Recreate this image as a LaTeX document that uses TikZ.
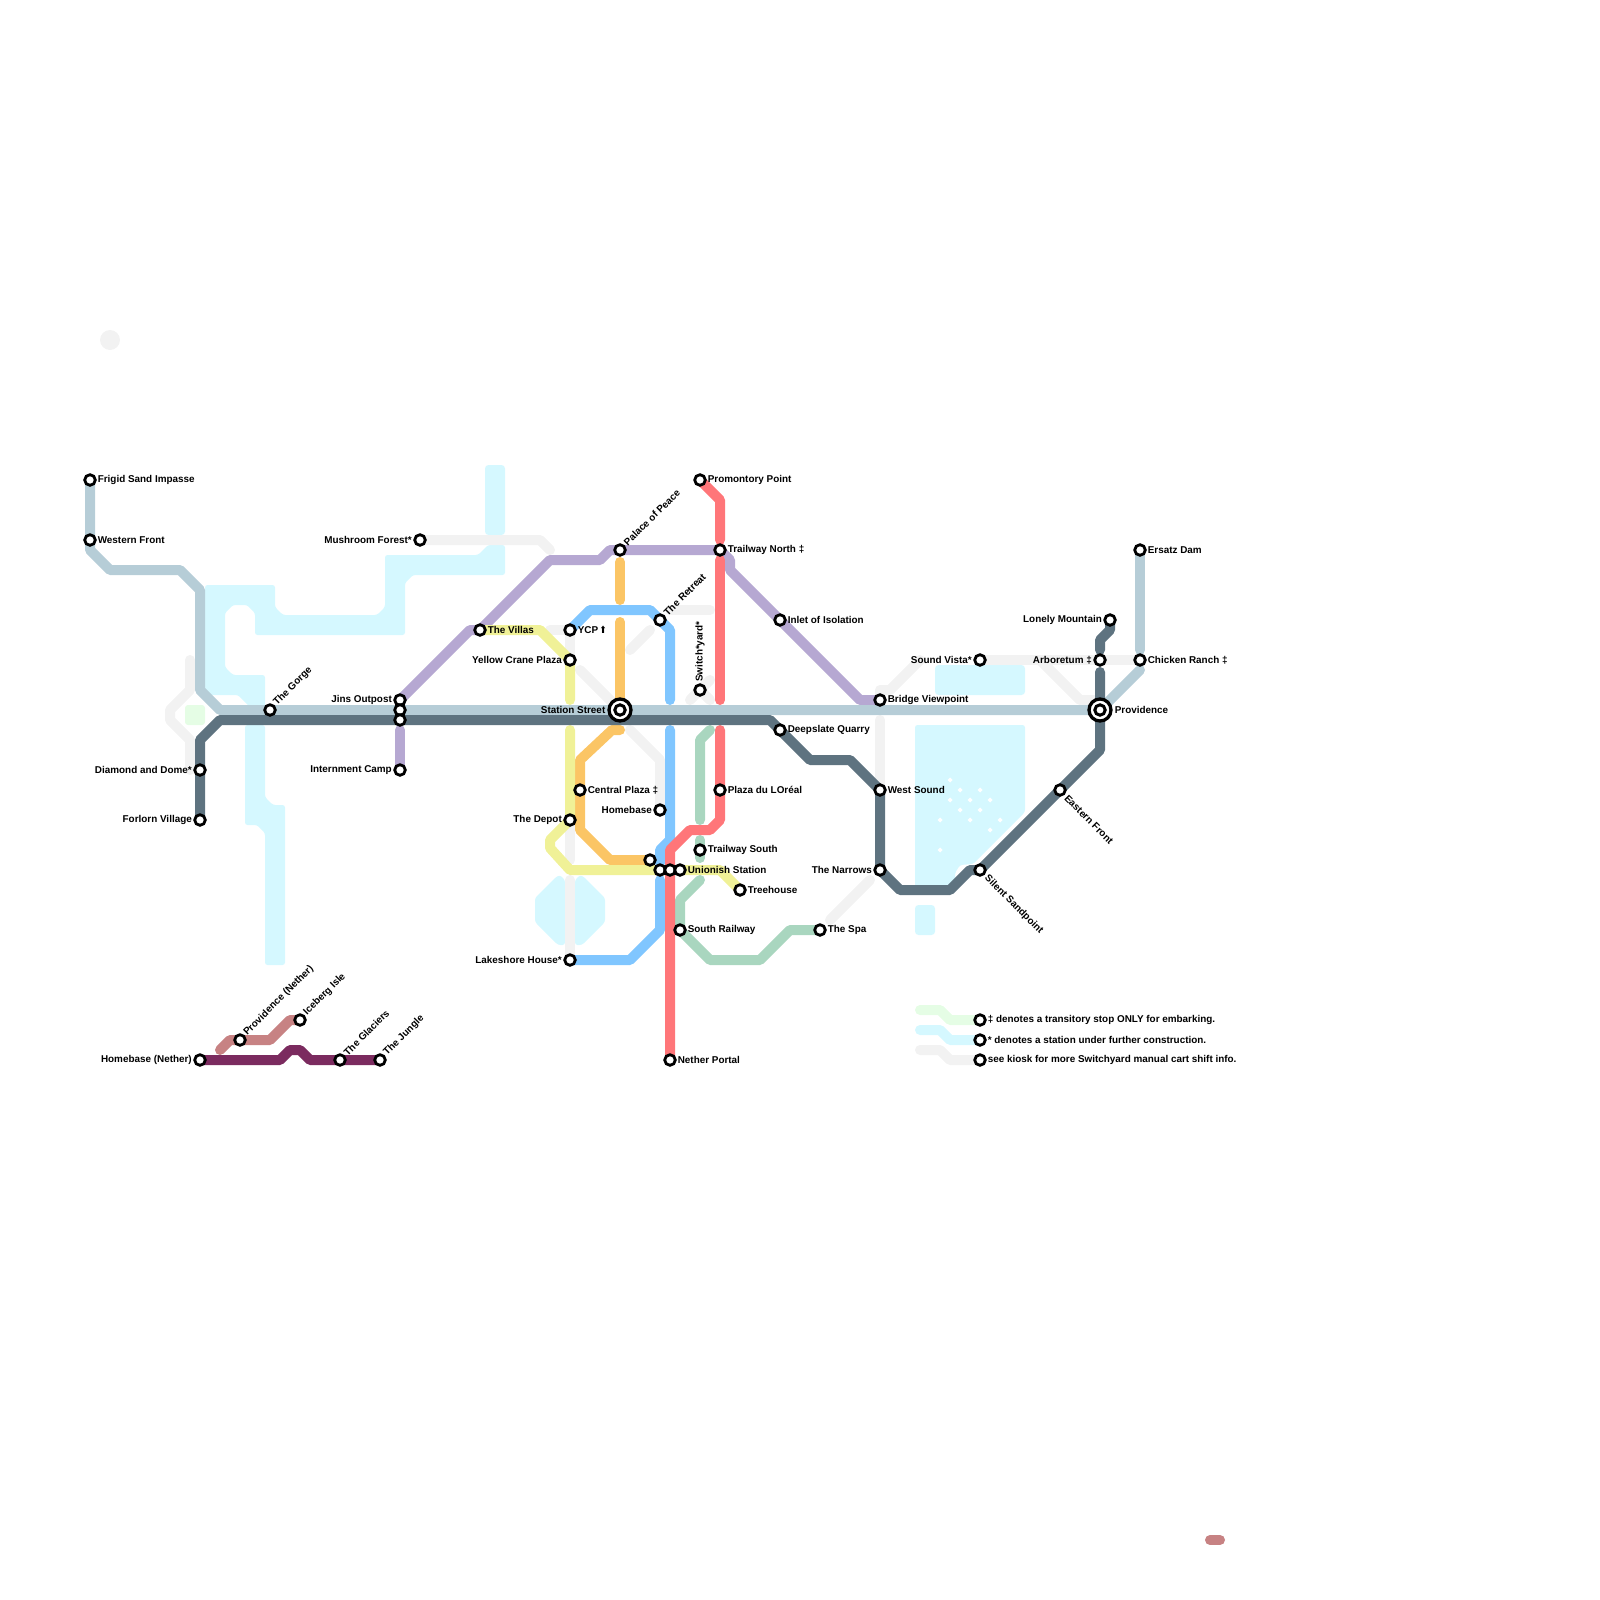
\documentclass[tikz,border=0pt]{standalone}
\usepackage{fontspec}
\setmainfont{Liberation Sans}[BoldFont=* Bold]
\newfontfamily\symfont{DejaVu Sans}
\pgfdeclarelayer{lines}
\pgfsetlayers{lines,main}
\definecolor{cwater}{HTML}{D5F8FF}
\definecolor{cgray}{HTML}{F2F2F2}
\definecolor{cpale}{HTML}{E5FDE5}
\definecolor{cice}{HTML}{B6CDD7}
\definecolor{cslate}{HTML}{5E7380}
\definecolor{cpurple}{HTML}{B6A8D2}
\definecolor{corange}{HTML}{FBC565}
\definecolor{cyellow}{HTML}{F0F197}
\definecolor{csky}{HTML}{80C6FF}
\definecolor{cred}{HTML}{FF7679}
\definecolor{cgreen}{HTML}{A9D6BF}
\definecolor{cpink}{HTML}{C78283}
\definecolor{cplum}{HTML}{7B2B5F}
\tikzset{
  line/.style={line width=10pt,line cap=round,line join=round},
  gline/.style={line,draw=cgray},
  wline/.style={line,draw=cwater},
  water/.style={fill=cwater,rounded corners=2.5pt},
  stn/.style={circle,draw=black,fill=white,line width=2.8pt,minimum size=10.6pt,inner sep=0pt},
  hub/.style={circle,draw=black,fill=white,line width=3.3pt,minimum size=22pt,inner sep=0pt},
  hubin/.style={circle,draw=black,fill=white,line width=3pt,minimum size=10.4pt,inner sep=0pt},
  lab/.style={font=\fontsize{9.9}{11}\selectfont\bfseries,inner sep=0pt,text=black},
  labr/.style={lab,anchor=west,xshift=7.6pt},
  labl/.style={lab,anchor=east,xshift=-8pt},
  labu/.style={lab,anchor=west,rotate=45,xshift=8pt,yshift=0.5pt},
  labd/.style={lab,anchor=west,rotate=-45,xshift=9pt,yshift=-0.5pt},
  dot/.style={fill=white},
}
\newcommand{\st}[5]{% name, x,y, text, style
  \node[stn] (#1) at (#2,#3) {};
  \node[#5] (#1-t) at (#2,#3) {#4};}
\begin{document}
\begin{tikzpicture}[x=1pt,y=-1pt]
\useasboundingbox (0,0) rectangle (1600,1600);
% stations
\st{frigid}{90}{480}{Frigid Sand Impasse}{labr}
\st{western}{90}{540}{Western Front}{labr}
\st{gorge}{270}{710}{The Gorge}{labu}
\st{diamond}{200}{770}{Diamond and Dome*}{labl}
\st{forlorn}{200}{820}{Forlorn Village}{labl}
\st{mushroom}{420}{540}{Mushroom Forest*}{labl}
\st{jins}{400}{700}{Jins Outpost}{labl}
\node[stn] (jinsb) at (400,710) {};
\node[stn] (jinsc) at (400,720) {};
\st{internment}{400}{770}{Internment Camp}{labl}
\st{villas}{480}{630}{The Villas}{labr}
\st{ycp}{570}{630}{YCP\kern1.5pt{\symfont\scalebox{0.85}[1]{⬆}}}{labr}
\st{crane}{570}{660}{Yellow Crane Plaza}{labl}
\st{palace}{620}{550}{Palace of Peace}{labu}
\st{retreat}{660}{620}{The Retreat}{labu}
\st{promontory}{700}{480}{Promontory Point}{labr}
\st{trailway}{720}{550}{Trailway North ‡}{labr}
\node[stn] (switch) at (700,690) {};
\node[lab,rotate=90,anchor=west] (switch-l) at (700,682) {Switch*yard*};
\node[hub] (station) at (620,710) {};
\node[hubin] (stationin) at (620,710) {};
\node[labl,xshift=-6.5pt] (station-t) at (620,710) {Station Street};
\st{inlet}{780}{620}{Inlet of Isolation}{labr}
\st{deepslate}{780}{730}{Deepslate Quarry}{labr}
\st{bridge}{880}{700}{Bridge Viewpoint}{labr}
\st{westsound}{880}{790}{West Sound}{labr}
\st{narrows}{880}{870}{The Narrows}{labl}
\st{soundvista}{980}{660}{Sound Vista*}{labl}
\st{arboretum}{1100}{660}{Arboretum ‡}{labl}
\st{chicken}{1140}{660}{Chicken Ranch ‡}{labr}
\st{ersatz}{1140}{550}{Ersatz Dam}{labr}
\st{lonely}{1110}{620}{Lonely Mountain}{labl}
\node[hub] (prov) at (1100,710) {};
\node[hubin] (provin) at (1100,710) {};
\node[labr,xshift=7pt] (prov-t) at (1100,710) {Providence};
\st{eastern}{1060}{790}{Eastern Front}{labd}
\st{silent}{980}{870}{Silent Sandpoint}{labd}
\st{central}{580}{790}{Central Plaza ‡}{labr}
\st{homebase}{660}{810}{Homebase}{labl}
\st{depot}{570}{820}{The Depot}{labl}
\node[stn] (unnamed) at (650,860) {};
\node[stn] (unia) at (660,870) {};
\node[stn] (unib) at (670,870) {};
\st{unic}{680}{870}{Unionish Station}{labr}
\st{trailsouth}{700}{850}{Trailway South}{labr}
\st{treehouse}{740}{890}{Treehouse}{labr}
\st{southrail}{680}{930}{South Railway}{labr}
\st{spa}{820}{930}{The Spa}{labr}
\st{lakeshore}{570}{960}{Lakeshore House*}{labl}
\st{plaza}{720}{790}{Plaza du LOréal}{labr}
\st{nether}{670}{1060}{Nether Portal}{labr}
\st{homenether}{200}{1060}{Homebase (Nether)}{labl}
\st{provnether}{240}{1040}{Providence (Nether)}{labu}
\st{iceberg}{300}{1020}{Iceberg Isle}{labu}
\st{glaciers}{340}{1060}{The Glaciers}{labu}
\st{jungle}{380}{1060}{The Jungle}{labu}
\st{keya}{980}{1020}{‡ denotes a transitory stop ONLY for embarking.}{labr}
\st{keyb}{980}{1040}{* denotes a station under further construction.}{labr}
\st{keyc}{980}{1060}{see kiosk for more Switchyard manual cart shift info.}{labr}
\begin{pgfonlayer}{lines}
% water
\fill[water,rounded corners=3.5pt] (485,465) rectangle (505,535);
\fill[water] (205,585)--(275,585)--(275,607)--(283,615)--(377,615)--(385,607)--(385,555)--(478,555)--(488,545)--(505,545)--(505,575)--(413,575)--(405,583)--(405,635)--(255,635)--(255,613)--(247,605)--(233,605)--(225,613)--(225,667)--(233,675)--(265,675)--(265,712)--(255,712)--(238,695)--(205,695)--cycle;
\fill[water] (245,725)--(265,725)--(265,797)--(273,805)--(285,805)--(285,965)--(265,965)--(265,833)--(257,825)--(245,825)--cycle;
\fill[water] (535,898)--(556,877)--(560,875)--(565,880)--(565,945)--(558,945)--(535,922)--cycle;
\fill[water] (575,880)--(580,875)--(584,877)--(605,898)--(605,922)--(582,945)--(575,945)--cycle;
\fill[water] (915,725)--(1025,725)--(1025,812)--(973,864)--(960,865)--(955,873)--(955,890)--(915,890)--cycle;
\fill[water,rounded corners=3.5pt] (915,905) rectangle (935,935);
\fill[water,rounded corners=3.5pt] (935,665) rectangle (1025,695);
\fill[cpale,rounded corners=3pt] (185,705) rectangle (205,725);
\foreach \px/\py in {950/780,960/790,980/790,950/800,970/800,990/800,960/810,980/810,940/820,970/820,1000/820,990/830,940/850}
  \fill[dot] (\px-2.5,\py)--(\px,\py-2.5)--(\px+2.5,\py)--(\px,\py+2.5)--cycle;
% gray lines
\fill[cgray] (110,340) circle (10pt);
\draw[gline] (soundvista.center)--(chicken.center);
\draw[gline] (1040,660)--(1080,700)--(1095,700);
\draw[gline] (920,660)--(890,690)--(880,690)--(bridge.center);
\draw[gline] (880,720)--(westsound.center);
\draw[gline] (830,920)--(870,880);
\draw[gline] (mushroom.center)--(540,540)--(550,550);
\draw[gline] (550,630)--(570,630)--(crane.center);
\draw[gline] (580,670)--(620,710);
\draw[gline] (630,730)--(660,760)--(homebase.center);
\draw[gline] (630,650)--(650,630);
\draw[gline] (670,610)--(710,610);
\draw[gline] (690,700)--(710,680);
\draw[gline] (switch.center)--(710,700);
\draw[gline] (depot.center)--(570,860);
\draw[gline] (570,880)--(lakeshore.center);
\draw[gline] (190,660)--(190,690)--(170,710)--(170,720)--(190,740)--(190,770);
\draw[gline] (920,1050)--(940,1050)--(950,1060)--(keyc.center);
\draw[line,draw=cpale] (920,1010)--(940,1010)--(950,1020)--(keya.center);
\draw[wline] (920,1030)--(940,1030)--(950,1040)--(keyb.center);
% metro lines
\draw[line,draw=cpurple] (jins.center)--(470,630)--(villas.center)--(550,560)--(600,560)--(610,550)--(palace.center)--(trailway.center)--(730,560)--(730,570)--(860,700)--(bridge.center);
\draw[line,draw=cpurple] (400,730)--(internment.center);
\draw[line,draw=corange] (620,562)--(620,600);
\draw[line,draw=corange] (620,622)--(station.center);
\draw[line,draw=corange] (620,730)--(612,730)--(580,760)--(central.center)--(580,830)--(610,860)--(unnamed.center);
\draw[line,draw=cyellow] (villas.center)--(540,630)--(crane.center)--(570,700);
\draw[line,draw=cyellow] (570,730)--(depot.center)--(550,840)--(550,848)--(570,870)--(720,870)--(treehouse.center);
\draw[line,draw=csky] (ycp.center)--(590,610)--(650,610)--(670,630)--(670,700);
\draw[line,draw=csky] (670,730)--(670,840)--(660,850)--(660,863);
\draw[line,draw=csky] (660,880)--(660,930)--(630,960)--(lakeshore.center);
\draw[line,draw=cgreen] (710,730)--(700,740)--(700,820);
\draw[line,draw=cgreen] (700,840)--(700,858);
\draw[line,draw=cgreen] (700,880)--(680,900)--(southrail.center)--(710,960)--(760,960)--(790,930)--(spa.center);
\draw[line,draw=cred] (promontory.center)--(720,500)--(720,540);
\draw[line,draw=cred] (720,560)--(720,700);
\draw[line,draw=cred] (720,730)--(720,820)--(710,830)--(690,830)--(670,850)--(nether.center);
\draw[line,draw=cice] (frigid.center)--(90,550)--(110,570)--(180,570)--(200,590)--(200,690)--(220,710)--(prov.center);
\draw[line,draw=cice] (prov.center)--(1140,670);
\draw[line,draw=cice] (ersatz.center)--(1140,650);
\draw[line,draw=cslate] (forlorn.center)--(200,740)--(220,720)--(770,720)--(810,760)--(850,760)--(880,790)--(narrows.center)--(900,890)--(950,890)--(970,870)--(980,870)--(1100,750)--(1100,672);
\draw[line,draw=cslate] (lonely.center)--(1110,630)--(1100,640)--(1100,650);
\draw[line,draw=cpink] (220,1050)--(230,1040)--(270,1040)--(290,1020)--(iceberg.center);
\draw[line,draw=cpink] (1210,1540)--(1220,1540);
\draw[line,draw=cplum] (homenether.center)--(280,1060)--(290,1050)--(300,1050)--(310,1060)--(jungle.center);
\end{pgfonlayer}
\end{tikzpicture}
\end{document}
